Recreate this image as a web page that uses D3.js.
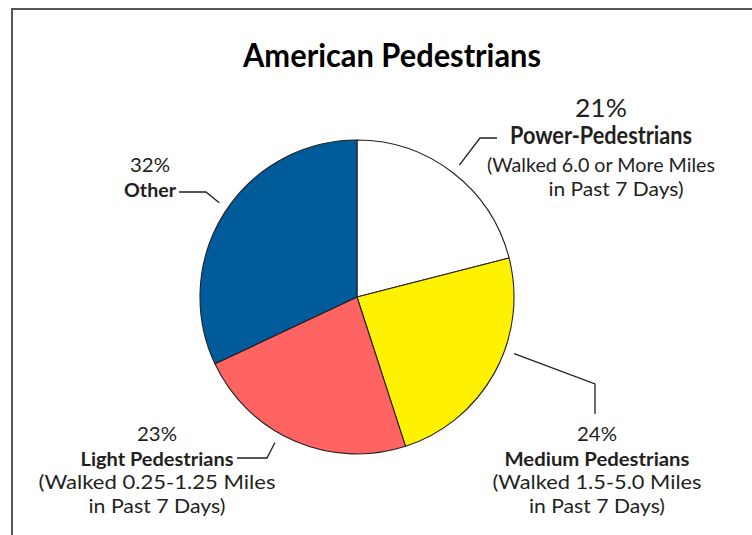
<!DOCTYPE html>
<html>
<head>
<meta charset="utf-8">
<script src="https://cdn.jsdelivr.net/npm/d3@7"></script>
<style>
  body { margin: 0; background: #fff; }
  text { font-family: Lato, "Open Sans", sans-serif; fill: #231f20; }
</style>
</head>
<body>
<div id="chart"></div>
<script>
var width = 752;
var height = 535;

// data
var categories = ["Power-Pedestrians", "Medium Pedestrians", "Light Pedestrians", "Other"];
var shares = [21, 24, 23, 32];
var notes = [
  ["(Walked 6.0 or More Miles", "in Past 7 Days)"],
  ["(Walked 1.5-5.0 Miles", "in Past 7 Days)"],
  ["(Walked 0.25-1.25 Miles", "in Past 7 Days)"],
  []
];
var colors = ["#ffffff", "#fff200", "#ff6462", "#005b9a"];

// label blocks: center x, baseline of first line, sizes, text widths, leader line
var labelLayout = [
  { x: 601, y: 117, pct: 25, name: 24, gap: 27, noteY: 55, w: [52, 182, 228, 135], noteDx: [0, 15],
    nudge: 0, elbow: [480, 138], end: [497, 138] },
  { x: 597, y: 441, pct: 20, name: 19.5, gap: 25, noteY: 48, w: [40, 185, 209, 136], noteDx: [0, 0],
    nudge: -9, elbow: [595, 384], end: [595, 414] },
  { x: 157, y: 441, pct: 20, name: 19.5, gap: 25, noteY: 48, w: [40, 153, 237, 137], noteDx: [0, 0],
    nudge: 6, elbow: [267, 458], end: [237, 458] },
  { x: 150, y: 172, pct: 20, name: 19.5, gap: 25, noteY: 48, w: [40, 52], noteDx: [],
    nudge: 2, elbow: [206, 192], end: [179, 192] }
];

var cx = 357, cy = 297, radius = 157;

var svg = d3.select("#chart")
  .append("svg")
  .attr("width", width)
  .attr("height", height);

// frame (only top and left edges show in the crop)
svg.append("path")
  .attr("d", "M12," + height + "V9H" + width)
  .attr("fill", "none")
  .attr("stroke", "#555")
  .attr("stroke-width", 2);

svg.append("text")
  .attr("x", 392)
  .attr("y", 67)
  .attr("text-anchor", "middle")
  .attr("font-size", 33)
  .attr("font-weight", 700)
  .attr("textLength", 298)
  .attr("lengthAdjust", "spacingAndGlyphs")
  .style("fill", "#000")
  .text("American Pedestrians");

var pie = d3.pie().sort(null).value(d => d);
var arcs = pie(shares);
var arc = d3.arc().innerRadius(0).outerRadius(radius);

var g = svg.append("g").attr("transform", `translate(${cx},${cy})`);

g.selectAll("path")
  .data(arcs)
  .join("path")
  .attr("d", arc)
  .attr("fill", (d, i) => colors[i])
  .attr("stroke", "#231f20")
  .attr("stroke-width", 1.1)
  .attr("stroke-linejoin", "round");

// leader lines
arcs.forEach(function(d, i) {
  var L = labelLayout[i];
  var a = (d.startAngle + d.endAngle) / 2 + L.nudge * Math.PI / 180;
  var r = radius + 10;
  var sx = cx + r * Math.sin(a);
  var sy = cy - r * Math.cos(a);
  svg.append("path")
    .attr("d", d3.line()([[sx, sy], L.elbow, L.end]))
    .attr("fill", "none")
    .attr("stroke", "#231f20")
    .attr("stroke-width", 1.3);
});

// label blocks
categories.forEach(function(name, i) {
  var L = labelLayout[i];
  var lab = svg.append("g").attr("text-anchor", "middle");

  lab.append("text")
    .attr("x", L.x).attr("y", L.y)
    .attr("font-size", L.pct)
    .attr("font-weight", 400)
    .attr("textLength", L.w[0])
    .attr("lengthAdjust", "spacingAndGlyphs")
    .text(shares[i] + "%");

  lab.append("text")
    .attr("x", L.x).attr("y", L.y + L.gap)
    .attr("font-size", L.name)
    .attr("font-weight", 700)
    .attr("textLength", L.w[1])
    .attr("lengthAdjust", "spacingAndGlyphs")
    .text(name);

  notes[i].forEach(function(line, j) {
    lab.append("text")
      .attr("x", L.x + L.noteDx[j]).attr("y", L.y + L.noteY + j * 24)
      .attr("font-size", 20)
      .attr("font-weight", 400)
      .attr("textLength", L.w[2 + j])
      .attr("lengthAdjust", "spacingAndGlyphs")
      .text(line);
  });
});
</script>
</body>
</html>
